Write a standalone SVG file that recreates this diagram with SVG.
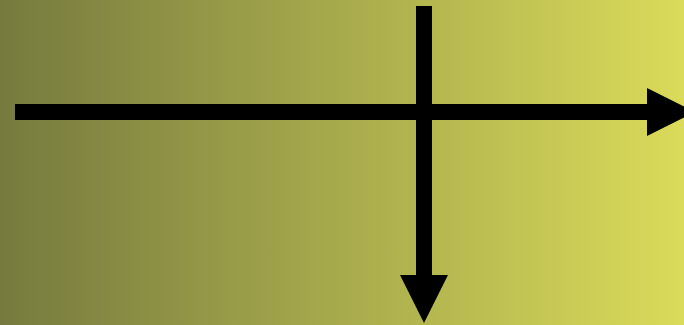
<svg xmlns="http://www.w3.org/2000/svg" width="684" height="325" viewBox="0 0 684 325">
<defs>
<linearGradient id="bg" x1="0" y1="0" x2="1" y2="0">
<stop offset="0" stop-color="#767a3e"/>
<stop offset="1" stop-color="#dadb5a"/>
</linearGradient>
</defs>
<style>.ln{stroke:#000;stroke-width:16;fill:none}.hd{fill:#000}</style>
<rect width="684" height="325" fill="url(#bg)"/>
<g id="connectors">
<line class="ln" x1="15" y1="112" x2="650" y2="112"/>
<polygon class="hd" points="647,88 695,112 647,136"/>
<line class="ln" x1="424" y1="6" x2="424" y2="278"/>
<polygon class="hd" points="400,275 448,275 424,323"/>
</g>
</svg>
